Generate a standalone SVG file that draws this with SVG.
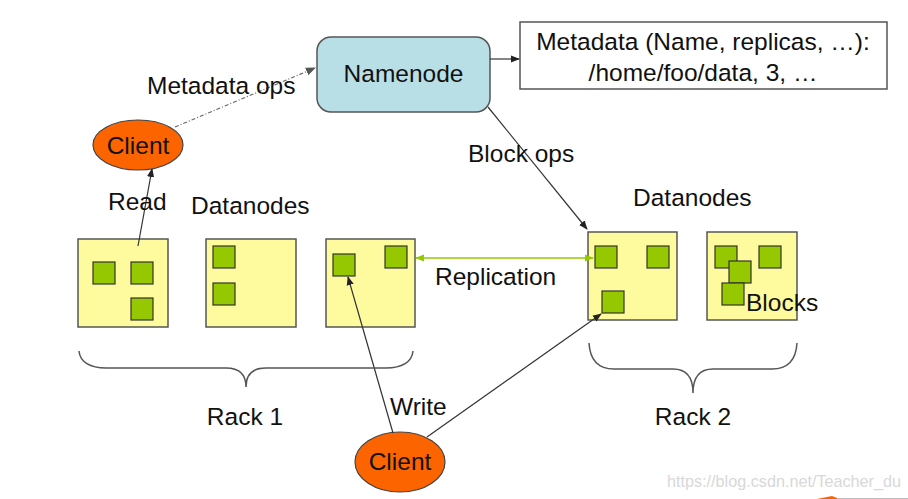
<svg xmlns="http://www.w3.org/2000/svg" width="908" height="499" viewBox="0 0 908 499">
<style>
text{font-family:"Liberation Sans",Arial,sans-serif;fill:#111;}
.lbl{font-size:24.5px;}
.dn{fill:#fefb9e;stroke:#555;stroke-width:1.5;}
.blk{fill:#96c800;stroke:#333;stroke-width:1.2;}
.cl{fill:#fc6400;stroke:#444;stroke-width:1.2;}
.ln{fill:none;stroke:#333;stroke-width:1.2;}
.brace{fill:none;stroke:#555;stroke-width:1.5;}
</style>
<defs>
<marker id="ah" viewBox="0 0 10 10" refX="9" refY="5" markerWidth="9" markerHeight="9" orient="auto" markerUnits="userSpaceOnUse">
<path d="M0,1 L10,5 L0,9 z" fill="#222"/>
</marker>
<marker id="ahg" viewBox="0 0 10 10" refX="9" refY="5" markerWidth="9" markerHeight="9" orient="auto-start-reverse" markerUnits="userSpaceOnUse">
<path d="M0,1 L10,5 L0,9 z" fill="#96c800"/>
</marker>
<marker id="ahd" viewBox="0 0 10 10" refX="9" refY="5" markerWidth="10" markerHeight="10" orient="auto" markerUnits="userSpaceOnUse">
<path d="M0,1 L10,5 L0,9 z" fill="#555"/>
</marker>
</defs>
<rect width="908" height="499" fill="#ffffff"/>

<g id="namenode">
<rect x="317" y="37" width="173" height="75" rx="14" fill="#b9dfe6" stroke="#555" stroke-width="1.5"/>
<text class="lbl" x="403.5" y="82" text-anchor="middle">Namenode</text>
</g>

<g id="metadata">
<rect x="520" y="22" width="367" height="67" fill="#fff" stroke="#555" stroke-width="1.5"/>
<text class="lbl" x="703" y="50" text-anchor="middle">Metadata (Name, replicas, …):</text>
<text class="lbl" x="703" y="81" text-anchor="middle">/home/foo/data, 3, …</text>
</g>

<g id="client-read">
<ellipse class="cl" cx="138" cy="145" rx="45" ry="25"/>
<text class="lbl" x="138" y="154" text-anchor="middle">Client</text>
</g>

<g id="client-write">
<ellipse class="cl" cx="400" cy="462" rx="45" ry="30"/>
<text class="lbl" x="400" y="470" text-anchor="middle">Client</text>
</g>

<g id="dn1">
<rect class="dn" x="78" y="239" width="90" height="88"/>
<rect class="blk" x="93" y="262" width="22" height="22"/>
<rect class="blk" x="131" y="262" width="22" height="22"/>
<rect class="blk" x="131" y="298" width="22" height="22"/>
</g>
<g id="dn2">
<rect class="dn" x="206" y="239" width="90" height="88"/>
<rect class="blk" x="213" y="246" width="22" height="22"/>
<rect class="blk" x="213" y="283" width="22" height="22"/>
</g>
<g id="dn3">
<rect class="dn" x="326" y="239" width="89" height="88"/>
<rect class="blk" x="333" y="254" width="22" height="22"/>
<rect class="blk" x="385" y="246" width="22" height="22"/>
</g>
<g id="dn4">
<rect class="dn" x="588" y="232" width="89" height="88"/>
<rect class="blk" x="595" y="246" width="22" height="22"/>
<rect class="blk" x="647" y="246" width="22" height="22"/>
<rect class="blk" x="602" y="291" width="22" height="22"/>
</g>
<g id="dn5">
<rect class="dn" x="707" y="232" width="90" height="88"/>
<rect class="blk" x="715" y="246" width="22" height="22"/>
<rect class="blk" x="759" y="246" width="22" height="22"/>
<rect class="blk" x="729" y="261" width="22" height="22"/>
<rect class="blk" x="722" y="283" width="22" height="22"/>
<text class="lbl" x="746" y="311">Blocks</text>
</g>

<g id="connectors">
<line x1="175" y1="127" x2="315" y2="68" stroke="#666" stroke-width="1.2" stroke-dasharray="4,2,1,2" marker-end="url(#ahd)"/>
<line class="ln" x1="490" y1="59" x2="519" y2="59" marker-end="url(#ah)"/>
<line class="ln" x1="138" y1="246" x2="152" y2="169" marker-end="url(#ah)"/>
<line class="ln" x1="488" y1="107" x2="587" y2="229" marker-end="url(#ah)"/>
<line x1="416" y1="258" x2="593" y2="258" stroke="#96c800" stroke-width="1.5" marker-start="url(#ahg)" marker-end="url(#ahg)"/>
<line class="ln" x1="393" y1="433" x2="348" y2="277" marker-end="url(#ah)"/>
<line class="ln" x1="427" y1="437" x2="601" y2="314" marker-end="url(#ah)"/>
</g>

<g id="labels">
<text class="lbl" x="147" y="94">Metadata ops</text>
<text class="lbl" x="468" y="162">Block ops</text>
<text class="lbl" x="108" y="210">Read</text>
<text class="lbl" x="191" y="214">Datanodes</text>
<text class="lbl" x="633" y="206">Datanodes</text>
<text class="lbl" x="435" y="285">Replication</text>
<text class="lbl" x="390" y="415">Write</text>
<text class="lbl" x="245" y="425" text-anchor="middle">Rack 1</text>
<text class="lbl" x="693" y="425" text-anchor="middle">Rack 2</text>
</g>

<g id="rack1">
<path class="brace" d="M79,351 C80,362 90,368 106,368 L226,368 C240,368 246,375 246,387 C246,375 252,368 266,368 L386,368 C402,368 412,362 413,351"/>
</g>
<g id="rack2">
<path class="brace" d="M589,343 C590,360 598,369 614,369 L673,369 C687,369 693,378 693,393 C693,378 699,369 713,369 L772,369 C788,369 796,360 797,343"/>
</g>

<text x="901" y="487" font-size="16.2" text-anchor="end" style="fill:#d8d8d8">https://blog.csdn.net/Teacher_du</text>
<path d="M817,499 L832,496 L837,498 L837,499 z" fill="#fc6400"/>
<line x1="837" y1="498.5" x2="908" y2="498.5" stroke="#bbb" stroke-width="1"/>
</svg>
